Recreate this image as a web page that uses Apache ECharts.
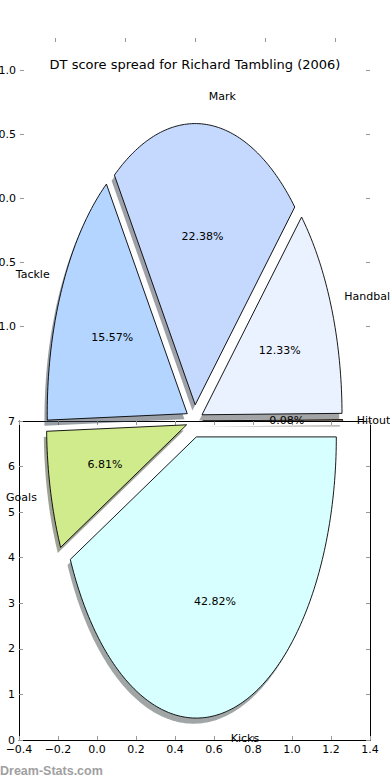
<!DOCTYPE html>
<html>
<head>
<meta charset="utf-8">
<script src="https://cdn.jsdelivr.net/npm/echarts@6/dist/echarts.min.js"></script>
<style>
html,body{margin:0;padding:0;background:#fff;}
#chart{width:390px;height:780px;}
</style>
</head>
<body>
<div id="chart"></div>
<script>
// ---- data ----
const categories = ['Kicks', 'Goals', 'Tackle', 'Mark', 'Handball', 'Hitout'];
const values = [42.82, 6.81, 15.57, 22.38, 12.33, 0.08];
const xTicks = [-0.4, 1.4, 0.2];       // min, max, step of the lower axes
const yTicks = [0, 7, 1];
const topTicks = [-1, -0.5, 0, 0.5, 1]; // ticks of the upper (pie) axes

// ---- styles ----
const colors = ['#d8ffff', '#cfeb8b', '#b3d5ff', '#c5d9ff', '#ebf2ff', '#ffe0c0'];
const FONT = '"DejaVu Sans", Verdana, sans-serif';
// pie geometry in lower-axes data units
const PIE = { cx: 0.5, cy: 7.0, rx: 0.718, ry: 6.17, explode: 0.058, shX: -0.02, shY: -0.02, labelDist: 1.1, pctDist: 0.6 };

const total = values.reduce((a, b) => a + b, 0);
const cum = [0];
values.forEach((v, i) => cum.push(cum[i] + v));

function hexToRgb(h) {
  const n = parseInt(h.slice(1), 16);
  return [(n >> 16) & 255, (n >> 8) & 255, n & 255];
}
function fmt(v) {
  if (Math.abs(v) < 1e-9) v = 0;
  const s = v.toFixed(1);
  return s.replace('-', '\u2212');
}

function renderItem(params, api) {
  const i = api.value(0);
  const a0 = cum[i] / total * Math.PI * 2;
  const a1 = cum[i + 1] / total * Math.PI * 2;
  const m = (a0 + a1) / 2;
  const ox = PIE.cx + PIE.explode * PIE.rx * Math.cos(m);
  const oy = PIE.cy - PIE.explode * PIE.ry * Math.sin(m);
  const n = Math.max(2, Math.ceil((a1 - a0) / (Math.PI * 2) * 360));
  const pts = [[ox, oy]];
  for (let k = 0; k <= n; k++) {
    const t = a0 + (a1 - a0) * k / n;
    pts.push([ox + PIE.rx * Math.cos(t), oy - PIE.ry * Math.sin(t)]);
  }
  const sx = PIE.shX * PIE.rx, sy = PIE.shY * PIE.ry;
  const wedgePts = pts.map(p => api.coord(p));
  const shadowPts = pts.map(p => api.coord([p[0] + sx, p[1] + sy]));
  const rgb = hexToRgb(colors[i]);
  const shadowFill = 'rgba(' + rgb.map(c => Math.round(c * 0.3)).join(',') + ',0.5)';

  const lp = api.coord([ox + PIE.labelDist * PIE.rx * Math.cos(m), oy - PIE.labelDist * PIE.ry * Math.sin(m)]);
  const pp = api.coord([ox + PIE.pctDist * PIE.rx * Math.cos(m), oy - PIE.pctDist * PIE.ry * Math.sin(m)]);
  const pct = (values[i] / total * 100).toFixed(2) + '%';

  return {
    type: 'group',
    children: [
      { type: 'polygon', shape: { points: shadowPts }, style: { fill: shadowFill, stroke: null }, z2: i * 2 },
      { type: 'polygon', shape: { points: wedgePts }, style: { fill: colors[i], stroke: '#000', lineWidth: 0.9 }, z2: i * 2 + 1 },
      { type: 'text', x: lp[0], y: lp[1], z2: 100,
        style: { text: categories[i], fill: '#000', fontSize: 11, fontFamily: FONT,
                 align: Math.cos(m) > 0 ? 'left' : 'right', verticalAlign: 'middle' } },
      { type: 'text', x: pp[0], y: pp[1], z2: 100,
        style: { text: pct, fill: '#000', fontSize: 11, fontFamily: FONT,
                 align: 'center', verticalAlign: 'middle' } }
    ]
  };
}

const tickStyle = { show: true, inside: true, length: 4, lineStyle: { color: '#999', width: 1 } };
const lineStyle = { show: true, onZero: false, lineStyle: { color: '#000', width: 1 } };
const noLine = { show: false, onZero: false };
const labelStyle = { color: '#000', fontSize: 11, fontFamily: FONT };

const chart = echarts.init(document.getElementById('chart'), null, { renderer: 'svg' });
chart.setOption({
  animation: false,
  backgroundColor: '#fff',
  title: {
    text: 'DT score spread for Richard Tambling (2006)',
    left: 'center', top: 53,
    textStyle: { color: '#000', fontSize: 13, fontWeight: 'normal', fontFamily: FONT }
  },
  grid: [
    { left: 19, right: 20, top: 421, bottom: 40, containLabel: false, outerBoundsMode: 'none' },
    { left: 20, right: 20, top: 38, bottom: 422, containLabel: false, outerBoundsMode: 'none' }
  ],
  xAxis: [
    { type: 'value', gridIndex: 0, position: 'bottom', min: xTicks[0], max: xTicks[1], interval: xTicks[2],
      axisLine: lineStyle, axisTick: tickStyle, splitLine: { show: false },
      axisLabel: Object.assign({ margin: 4, formatter: fmt }, labelStyle) },
    { type: 'value', gridIndex: 0, position: 'top', min: xTicks[0], max: xTicks[1], interval: xTicks[2],
      axisLine: lineStyle, axisTick: tickStyle, splitLine: { show: false }, axisLabel: { show: false } },
    { type: 'value', gridIndex: 1, position: 'top', min: -1.25, max: 1.25,
      axisLine: noLine, splitLine: { show: false }, axisLabel: { show: false },
      axisTick: Object.assign({ customValues: topTicks }, tickStyle) }
  ],
  yAxis: [
    { type: 'value', gridIndex: 0, position: 'left', min: yTicks[0], max: yTicks[1], interval: yTicks[2],
      axisLine: lineStyle, axisTick: tickStyle, splitLine: { show: false },
      axisLabel: Object.assign({ margin: 4 }, labelStyle) },
    { type: 'value', gridIndex: 0, position: 'right', min: yTicks[0], max: yTicks[1], interval: yTicks[2],
      axisLine: lineStyle, axisTick: tickStyle, splitLine: { show: false }, axisLabel: { show: false } },
    { type: 'value', gridIndex: 1, position: 'left', min: -1.25, max: 1.25,
      axisLine: noLine, splitLine: { show: false },
      axisTick: Object.assign({ customValues: topTicks }, tickStyle),
      axisLabel: Object.assign({ margin: 4, customValues: topTicks, formatter: fmt }, labelStyle) },
    { type: 'value', gridIndex: 1, position: 'right', min: -1.25, max: 1.25,
      axisLine: noLine, splitLine: { show: false }, axisLabel: { show: false },
      axisTick: Object.assign({ customValues: topTicks }, tickStyle) }
  ],
  series: [{
    type: 'custom',
    xAxisIndex: 0, yAxisIndex: 0,
    clip: false,
    renderItem: renderItem,
    data: values.map((v, i) => [i, v])
  }],
  graphic: [{
    type: 'text', left: 0, top: 764,
    style: { text: 'Dream-Stats.com', fill: '#a0a0a0', font: 'bold 12.5px "Liberation Sans", Arial, sans-serif' }
  }]
});
</script>
</body>
</html>
